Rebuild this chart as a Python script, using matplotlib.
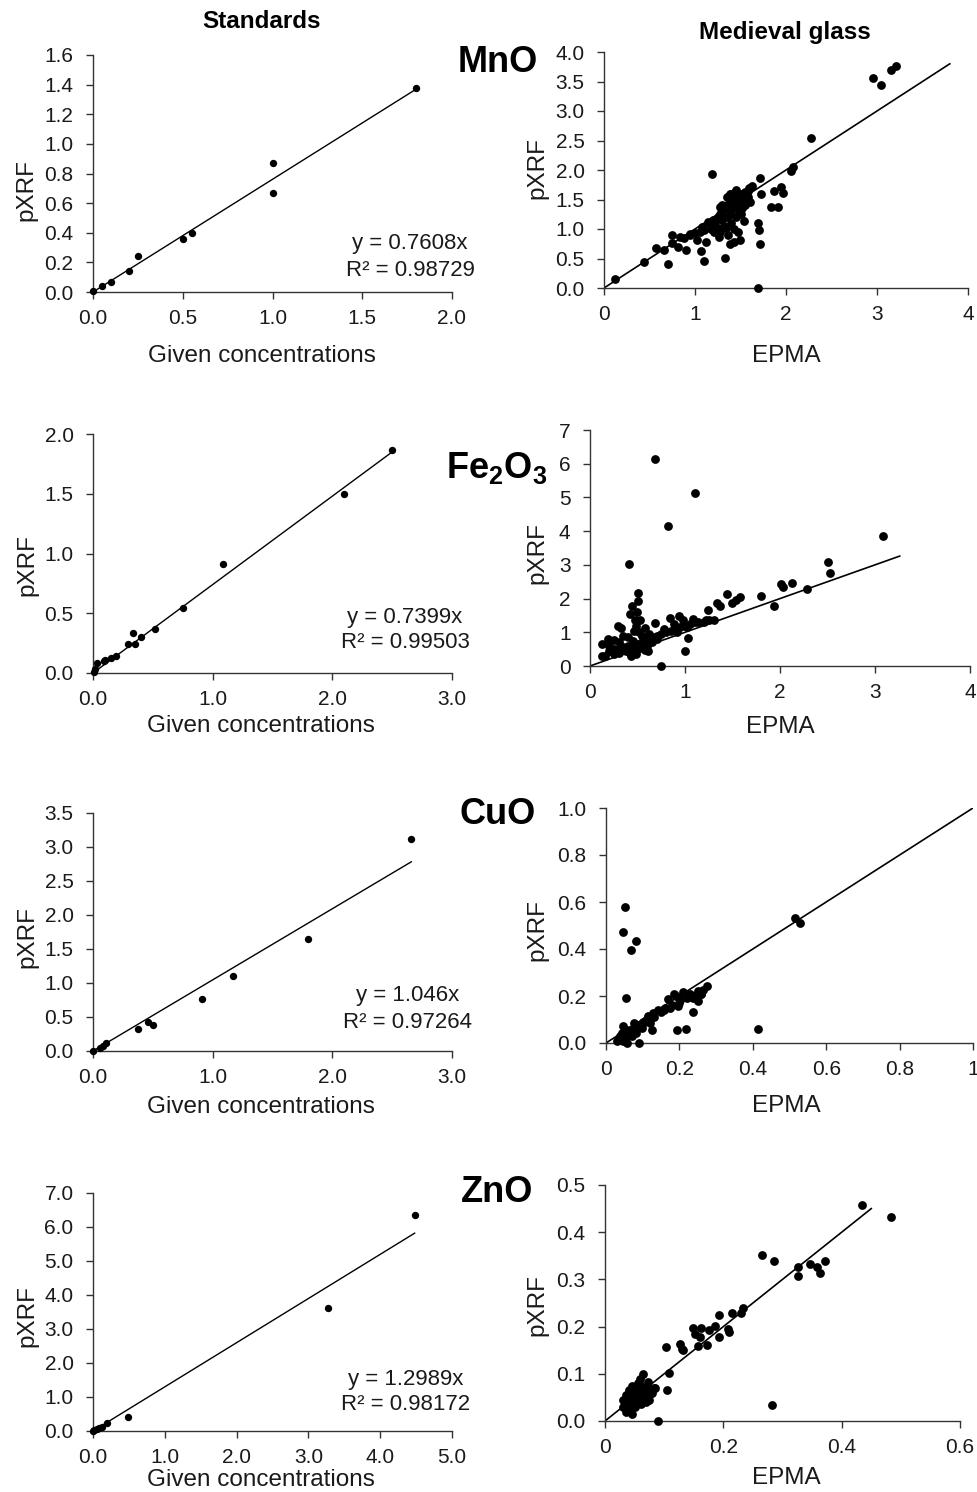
import numpy as np
import matplotlib
matplotlib.use('Agg')
import matplotlib.pyplot as plt
from matplotlib.ticker import FormatStrFormatter, FuncFormatter

plt.rcParams['font.family'] = ['Liberation Sans', 'DejaVu Sans']
plt.rcParams['mathtext.fontset'] = 'custom'
plt.rcParams['mathtext.rm'] = 'Liberation Sans'
plt.rcParams['mathtext.bf'] = 'Liberation Sans:bold'
plt.rcParams['mathtext.default'] = 'bf'

W, H = 978, 1492

# Standards: given concentration vs pXRF
std_mno_x = [0.0, 0.05, 0.1, 0.2, 0.25, 0.5, 0.55, 1.0, 1.0, 1.8]
std_mno_y = [0.01, 0.04, 0.065, 0.14, 0.24, 0.36, 0.40, 0.87, 0.67, 1.375]

std_fe_x = [0.008, 0.02, 0.03, 0.09, 0.1, 0.15, 0.19, 0.29, 0.335, 0.35, 0.40, 0.52, 0.75, 1.09, 2.10, 2.50]
std_fe_y = [0.008, 0.035, 0.08, 0.10, 0.105, 0.125, 0.14, 0.24, 0.335, 0.245, 0.30, 0.37, 0.545, 0.915, 1.50, 1.865]

std_cu_x = [0.0, 0.06, 0.085, 0.105, 0.376, 0.457, 0.50, 0.91, 1.17, 1.80, 2.66]
std_cu_y = [0.0, 0.05, 0.08, 0.12, 0.33, 0.42, 0.38, 0.77, 1.11, 1.65, 3.12]

std_zn_x = [0.0, 0.02, 0.055, 0.09, 0.12, 0.19, 0.49, 3.27, 4.48]
std_zn_y = [0.0, 0.03, 0.06, 0.09, 0.12, 0.235, 0.41, 3.63, 6.36]

std_slope = [0.7608, 0.7399, 1.046, 1.2989]
std_r2 = [0.98729, 0.99503, 0.97264, 0.98172]

# Medieval glass: EPMA vs pXRF
glass_mno_x = [0.12, 0.44, 0.57, 0.66, 0.70, 0.75, 0.83, 0.75, 0.81, 0.90, 0.88, 0.94, 1.02, 1.07,
               1.10, 1.12, 1.19, 1.14, 1.08, 1.21, 1.26, 1.33, 1.34, 1.39, 1.43, 1.49, 1.54, 1.69,
               1.70, 1.71, 1.69, 1.72, 1.71, 1.63, 1.59, 1.83, 1.91, 1.87, 1.94, 1.97, 2.05, 2.08,
               2.27, 2.96, 3.04, 3.15, 3.21,
               1.15, 1.20, 1.25, 1.28, 1.30, 1.33, 1.35, 1.38, 1.40, 1.42, 1.45, 1.48, 1.50, 1.55,
               1.58, 1.30, 1.35, 1.38, 1.40, 1.42, 1.45, 1.48, 1.50, 1.52, 1.55, 1.40, 1.45, 1.32,
               1.28, 1.36, 1.43, 1.47, 1.50, 1.20, 1.25, 1.22, 1.10, 1.05, 1.00, 0.95, 1.18, 1.35,
               1.40, 1.45, 1.50, 1.55, 1.58, 1.60, 1.38, 1.52, 1.30, 1.28]
glass_mno_y = [0.16, 0.44, 0.67, 0.64, 0.40, 0.89, 0.86, 0.76, 0.69, 0.64, 0.84, 0.92, 0.81, 0.63,
               0.45, 0.78, 1.93, 1.12, 1.03, 0.95, 0.86, 0.51, 1.01, 0.75, 0.78, 0.82, 1.14, 1.10,
               0.99, 0.75, 0.0, 1.60, 1.86, 1.73, 1.69, 1.38, 1.38, 1.64, 1.71, 1.61, 1.99, 2.05,
               2.55, 3.56, 3.44, 3.70, 3.76,
               1.10, 1.15, 1.20, 1.25, 1.30, 1.35, 1.40, 1.45, 1.48, 1.50, 1.55, 1.58, 1.60, 1.63,
               1.65, 1.15, 1.20, 1.30, 1.25, 1.35, 1.40, 1.30, 1.45, 1.35, 1.50, 1.10, 1.20, 1.05,
               0.95, 0.90, 1.00, 0.95, 1.25, 1.05, 1.02, 1.12, 0.98, 0.95, 0.93, 0.90, 1.00, 1.55,
               1.60, 1.66, 1.50, 1.40, 1.55, 1.45, 1.60, 1.58, 1.40, 1.38]

glass_fe_x = [0.68, 1.11, 0.82, 0.41, 3.08, 2.50, 2.53, 2.28, 2.13, 2.01, 2.03, 1.94, 1.80, 1.58,
              1.54, 1.49, 1.44, 1.37, 1.34, 1.24, 1.31, 1.22, 1.14, 1.03, 1.00, 0.75, 0.50, 0.50,
              0.44, 0.42, 0.49, 0.47, 0.53, 0.29, 0.33, 0.19, 0.25, 0.13, 0.13, 0.16, 0.68, 0.84,
              0.94, 0.43, 0.61, 0.46, 0.58,
              0.30, 0.35, 0.40, 0.45, 0.50, 0.55, 0.60, 0.65, 0.70, 0.75, 0.80, 0.85, 0.90, 0.95,
              1.00, 1.05, 1.10, 1.20, 1.25, 0.20, 0.25, 0.30, 0.38, 0.45, 0.50, 0.55, 0.60, 0.62,
              0.70, 0.78, 0.88, 0.92, 0.98, 1.02, 1.08, 0.35, 0.40, 0.48, 0.52, 0.30, 0.55, 0.65,
              0.20, 0.25, 0.42, 0.48, 0.58]
glass_fe_y = [6.14, 5.12, 4.15, 3.02, 3.85, 3.07, 2.76, 2.27, 2.47, 2.42, 2.33, 1.78, 2.07, 2.05,
              1.97, 1.87, 2.15, 1.77, 1.88, 1.65, 1.36, 1.36, 1.31, 0.83, 0.44, 0.0, 2.18, 1.92,
              1.78, 1.53, 1.60, 1.36, 1.36, 1.18, 1.13, 0.81, 0.76, 0.66, 0.29, 0.29, 1.29, 1.41,
              1.47, 0.29, 0.45, 1.03, 1.14,
              0.50, 0.55, 0.60, 0.55, 0.65, 0.70, 0.80, 0.85, 0.90, 0.95, 1.00, 1.05, 1.10, 1.15,
              1.20, 1.25, 1.30, 1.30, 1.35, 0.45, 0.50, 0.40, 0.45, 0.75, 0.50, 0.90, 0.60, 0.95,
              0.80, 1.10, 1.25, 1.00, 1.35, 1.15, 1.40, 0.90, 0.85, 1.20, 1.00, 0.70, 0.55, 0.70,
              0.60, 0.35, 0.40, 0.35, 0.48]

glass_cu_x = [0.052, 0.045, 0.082, 0.067, 0.055, 0.515, 0.529, 0.413, 0.193, 0.217, 0.238, 0.274,
              0.265, 0.258, 0.185, 0.170, 0.210, 0.225, 0.238, 0.252, 0.202, 0.197, 0.175, 0.157,
              0.143, 0.129, 0.115, 0.120, 0.125, 0.102, 0.088, 0.075, 0.091, 0.058, 0.034, 0.038,
              0.043, 0.047, 0.056, 0.065, 0.070, 0.052, 0.047, 0.083, 0.029, 0.061, 0.079, 0.097,
              0.11, 0.13, 0.15, 0.16, 0.18, 0.20, 0.22, 0.24, 0.26, 0.20, 0.23, 0.19, 0.25, 0.07,
              0.09, 0.10]
glass_cu_y = [0.578, 0.472, 0.436, 0.394, 0.191, 0.534, 0.510, 0.061, 0.057, 0.061, 0.132, 0.244,
              0.224, 0.208, 0.208, 0.188, 0.217, 0.198, 0.191, 0.177, 0.184, 0.156, 0.149, 0.142,
              0.142, 0.127, 0.113, 0.085, 0.054, 0.085, 0.078, 0.085, 0.0, 0.0, 0.014, 0.028,
              0.042, 0.071, 0.057, 0.050, 0.028, 0.021, 0.007, 0.042, 0.007, 0.035, 0.064, 0.064,
              0.10, 0.11, 0.13, 0.15, 0.16, 0.17, 0.19, 0.20, 0.21, 0.19, 0.21, 0.20, 0.22, 0.06,
              0.07, 0.09]

glass_zn_x = [0.434, 0.483, 0.266, 0.286, 0.326, 0.326, 0.347, 0.358, 0.364, 0.372, 0.283, 0.234,
              0.230, 0.214, 0.193, 0.193, 0.208, 0.210, 0.186, 0.175, 0.162, 0.149, 0.152, 0.160,
              0.158, 0.173, 0.127, 0.130, 0.131, 0.103, 0.109, 0.104, 0.089, 0.064, 0.059, 0.073,
              0.082, 0.075,
              0.030, 0.035, 0.040, 0.045, 0.050, 0.055, 0.060, 0.040, 0.045, 0.050, 0.055, 0.060,
              0.065, 0.070, 0.035, 0.040, 0.045, 0.050, 0.055, 0.060, 0.065, 0.070, 0.075, 0.080,
              0.035, 0.040, 0.050, 0.060, 0.030, 0.045, 0.070, 0.065, 0.075, 0.085, 0.055]
glass_zn_y = [0.458, 0.433, 0.351, 0.339, 0.327, 0.308, 0.332, 0.327, 0.313, 0.339, 0.033, 0.240,
              0.229, 0.229, 0.224, 0.177, 0.194, 0.189, 0.201, 0.192, 0.198, 0.198, 0.184, 0.178,
              0.159, 0.161, 0.164, 0.153, 0.150, 0.157, 0.102, 0.065, 0.0, 0.100, 0.088, 0.083,
              0.069, 0.045,
              0.030, 0.040, 0.050, 0.060, 0.070, 0.065, 0.075, 0.025, 0.035, 0.045, 0.050, 0.055,
              0.060, 0.065, 0.020, 0.065, 0.075, 0.030, 0.040, 0.035, 0.045, 0.050, 0.055, 0.060,
              0.055, 0.045, 0.055, 0.045, 0.045, 0.015, 0.040, 0.070, 0.070, 0.070, 0.080]

glass_slope = [1.0, 1.0, 1.0, 1.0]
glass_fit_end = [3.8, 3.26, 1.0, 0.45]

oxides = ['MnO', 'Fe$_2$O$_3$', 'CuO', 'ZnO']


def add_px_axes(left, top, right, bottom):
    return fig.add_axes([left / W, 1 - bottom / H, (right - left) / W, (bottom - top) / H])


def style_axes(ax):
    for s in ['top', 'right']:
        ax.spines[s].set_visible(False)
    for s in ['left', 'bottom']:
        ax.spines[s].set_color('#333333')
        ax.spines[s].set_linewidth(1.0)
    ax.tick_params(direction='out', length=5, width=1, color='#333333',
                   labelsize=15, labelcolor='#1a1a1a')
    ax.tick_params(axis='x', pad=7.5)
    ax.tick_params(axis='y', pad=9)


def label_at(ax, xlabel_px, ylabel_px, box):
    # box = (left, top, right, bottom) in pixels; labels placed by their pixel centre
    l, t, r, b = box
    ax.set_xlabel(xlabel_px[0], fontsize=17.5, color='#1a1a1a', va='center')
    ax.xaxis.set_label_coords((xlabel_px[1] - l) / (r - l), (b - xlabel_px[2]) / (b - t))
    ax.set_ylabel('pXRF', fontsize=17.5, color='#1a1a1a', va='center')
    ax.yaxis.set_label_coords((ylabel_px[0] - l) / (r - l), (b - ylabel_px[1]) / (b - t))


def gen_fmt(v, pos):
    return ('%.1f' % v).rstrip('0').rstrip('.') if v != 0 else '0'


fig = plt.figure(figsize=(W / 100, H / 100), dpi=100)

std_data = [(std_mno_x, std_mno_y), (std_fe_x, std_fe_y), (std_cu_x, std_cu_y), (std_zn_x, std_zn_y)]
glass_data = [(glass_mno_x, glass_mno_y), (glass_fe_x, glass_fe_y),
              (glass_cu_x, glass_cu_y), (glass_zn_x, glass_zn_y)]

std_boxes = [(93, 55, 452, 292), (93, 434, 452, 673), (93, 813, 452, 1051), (93, 1193, 452, 1431)]
glass_boxes = [(604, 52, 968, 288), (590, 430, 970, 666), (606, 808, 973, 1043), (605, 1185, 960, 1421)]

std_xlim = [2.0, 3.0, 3.0, 5.0]
std_xstep = [0.5, 1.0, 1.0, 1.0]
std_ylim = [1.6, 2.0, 3.5, 7.0]
std_ystep = [0.2, 0.5, 0.5, 1.0]

glass_xlim = [4, 4, 1.0, 0.6]
glass_xstep = [1, 1, 0.2, 0.2]
glass_ylim = [4.0, 7, 1.0, 0.5]
glass_ystep = [0.5, 1, 0.2, 0.1]
glass_yfmt = ['%.1f', '%d', '%.1f', '%.1f']

std_xlab = [(262, 356), (261, 726), (261, 1107), (261, 1480)]
std_ylab = [(26, 190), (27, 565), (27, 937), (27, 1316)]
glass_xlab = [(786, 356), (780, 727), (786, 1106), (786, 1478)]
glass_ylab = [(537, 168), (537, 553), (537, 930), (537, 1305)]
eq_pos = [(410, 243, 270), (405, 618, 643), (408, 996, 1022), (406, 1380, 1405)]
oxide_pos = [(498, 63), (497, 468), (498, 815), (497, 1192)]

for i in range(4):
    # standards
    box = std_boxes[i]
    ax = add_px_axes(*box)
    x, y = std_data[i]
    ax.scatter(x, y, s=28, color='black', zorder=3, clip_on=False, linewidths=0)
    xf = np.array([0, max(x)])
    ax.plot(xf, std_slope[i] * xf, color='black', lw=1.0)
    ax.set_xlim(0, std_xlim[i])
    ax.set_ylim(0, std_ylim[i])
    ax.set_xticks(np.arange(0, std_xlim[i] + 1e-9, std_xstep[i]))
    ax.set_yticks(np.arange(0, std_ylim[i] + 1e-9, std_ystep[i]))
    ax.xaxis.set_major_formatter(FormatStrFormatter('%.1f'))
    ax.yaxis.set_major_formatter(FormatStrFormatter('%.1f'))
    style_axes(ax)
    label_at(ax, ('Given concentrations',) + std_xlab[i], std_ylab[i], box)
    ex, ey1, ey2 = eq_pos[i]
    slope_txt = ('%.4f' % std_slope[i]).rstrip('0')
    fig.text(ex / W, 1 - ey1 / H, 'y = %sx' % slope_txt, ha='center', va='center',
             fontsize=16, color='#1a1a1a')
    fig.text(ex / W, 1 - ey2 / H, 'R² = %.5f' % std_r2[i], ha='center', va='center',
             fontsize=16, color='#1a1a1a')

    # medieval glass
    box = glass_boxes[i]
    ax = add_px_axes(*box)
    x, y = glass_data[i]
    ax.scatter(x, y, s=40, color='black', zorder=3, clip_on=False, linewidths=0)
    xf = np.array([0, glass_fit_end[i]])
    ax.plot(xf, glass_slope[i] * xf, color='black', lw=1.2)
    ax.set_xlim(0, glass_xlim[i])
    ax.set_ylim(0, glass_ylim[i])
    ax.set_xticks(np.arange(0, glass_xlim[i] + 1e-9, glass_xstep[i]))
    ax.set_yticks(np.arange(0, glass_ylim[i] + 1e-9, glass_ystep[i]))
    ax.xaxis.set_major_formatter(FuncFormatter(gen_fmt))
    ax.yaxis.set_major_formatter(FormatStrFormatter(glass_yfmt[i]))
    style_axes(ax)
    label_at(ax, ('EPMA',) + glass_xlab[i], glass_ylab[i], box)

    ox, oy = oxide_pos[i]
    fig.text(ox / W, 1 - oy / H, oxides[i], ha='center', va='center',
             fontsize=26, fontweight='bold', color='black')

fig.text(262 / W, 1 - 22 / H, 'Standards', ha='center', va='center',
         fontsize=17.5, fontweight='bold', color='black')
fig.text(785 / W, 1 - 33 / H, 'Medieval glass', ha='center', va='center',
         fontsize=17.5, fontweight='bold', color='black')

fig.savefig('out.png', dpi=100, facecolor='white')
